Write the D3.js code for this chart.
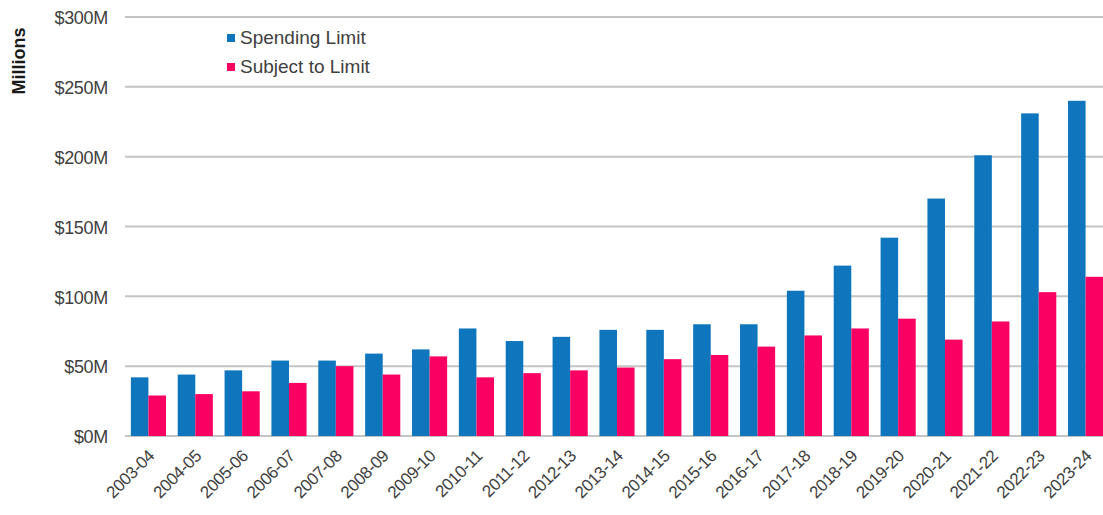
<!DOCTYPE html>
<html lang="en">
<head>
    <meta charset="UTF-8">
    <title>Spending Limit vs Subject to Limit</title>
    <script src="https://d3js.org/d3.v7.min.js"></script>
    <style>
        body {
            margin: 0;
            background: white;
            font-family: Arial, "Liberation Sans", sans-serif;
        }
        .grid line { stroke: #c4c4c4; stroke-width: 2; }
        .tick-label { fill: #404040; font-size: 18px; letter-spacing: -0.3px; }
        .x-label { fill: #404040; font-size: 17px; letter-spacing: -0.4px; }
    </style>
</head>
<body>
<svg width="1103" height="515"></svg>
<script>
    // Data
    const years = ["2003-04", "2004-05", "2005-06", "2006-07", "2007-08", "2008-09", "2009-10",
        "2010-11", "2011-12", "2012-13", "2013-14", "2014-15", "2015-16", "2016-17", "2017-18",
        "2018-19", "2019-20", "2020-21", "2021-22", "2022-23", "2023-24"];
    const spendingLimit = [42, 44, 47, 54, 54, 59, 62, 77, 68, 71, 76, 76, 80, 80, 104,
        122, 142, 170, 201, 231, 240];
    const subjectToLimit = [29, 30, 32, 38, 50, 44, 57, 42, 45, 47, 49, 55, 58, 64, 72,
        77, 84, 69, 82, 103, 114];
    const yTicks = [0, 50, 100, 150, 200, 250, 300];
    const seriesNames = ["Spending Limit", "Subject to Limit"];
    const colors = ["#0f76bd", "#fb0063"];

    const svg = d3.select("svg");
    const margin = { top: 17, left: 125, bottom: 79 };
    const plotRight = 1109;
    const height = 515 - margin.top - margin.bottom;

    const x0 = d3.scaleBand()
        .domain(years)
        .range([margin.left, plotRight])
        .paddingInner(0.25)
        .paddingOuter(0.125);

    const x1 = d3.scaleBand()
        .domain([0, 1])
        .range([0, x0.bandwidth()]);

    const y = d3.scaleLinear()
        .domain([0, 300])
        .range([margin.top + height, margin.top]);

    // Gridlines
    const grid = svg.append("g").attr("class", "grid");
    grid.selectAll("line")
        .data(yTicks)
        .enter().append("line")
        .attr("x1", margin.left)
        .attr("x2", plotRight)
        .attr("y1", d => y(d))
        .attr("y2", d => y(d));

    // Y tick labels
    svg.append("g").selectAll("text")
        .data(yTicks)
        .enter().append("text")
        .attr("class", "tick-label")
        .attr("x", 108)
        .attr("y", d => y(d) + 1)
        .attr("dy", "0.35em")
        .attr("text-anchor", "end")
        .text(d => "$" + d + "M");

    // Bars
    const groups = svg.append("g").selectAll("g")
        .data(years)
        .enter().append("g")
        .attr("transform", d => `translate(${x0(d)},0)`);

    groups.selectAll("rect")
        .data((d, i) => [spendingLimit[i], subjectToLimit[i]])
        .enter().append("rect")
        .attr("x", (d, i) => x1(i))
        .attr("width", x1.bandwidth())
        .attr("y", d => y(d))
        .attr("height", d => y(0) - y(d))
        .attr("fill", (d, i) => colors[i]);

    // X labels
    svg.append("g").selectAll("text")
        .data(years)
        .enter().append("text")
        .attr("class", "x-label")
        .attr("text-anchor", "end")
        .attr("transform", d => `translate(${x0(d) + x0.bandwidth() / 2 + 7},${y(0) + 21}) rotate(-45)`)
        .text(d => d);

    // Y axis title
    svg.append("text")
        .attr("transform", "translate(25,61) rotate(-90)")
        .attr("text-anchor", "middle")
        .style("font-size", "18px")
        .style("font-weight", "bold")
        .style("fill", "#1a1a1a")
        .text("Millions");

    // Legend
    const legend = svg.append("g").attr("transform", "translate(227,34)");
    seriesNames.forEach((name, i) => {
        legend.append("rect")
            .attr("x", 0)
            .attr("y", i * 29)
            .attr("width", 8)
            .attr("height", 8)
            .attr("fill", colors[i]);
        legend.append("text")
            .attr("x", 13)
            .attr("y", i * 29 + 10)
            .style("font-size", "19px")
            .style("fill", "#404040")
            .text(name);
    });
</script>
</body>
</html>
